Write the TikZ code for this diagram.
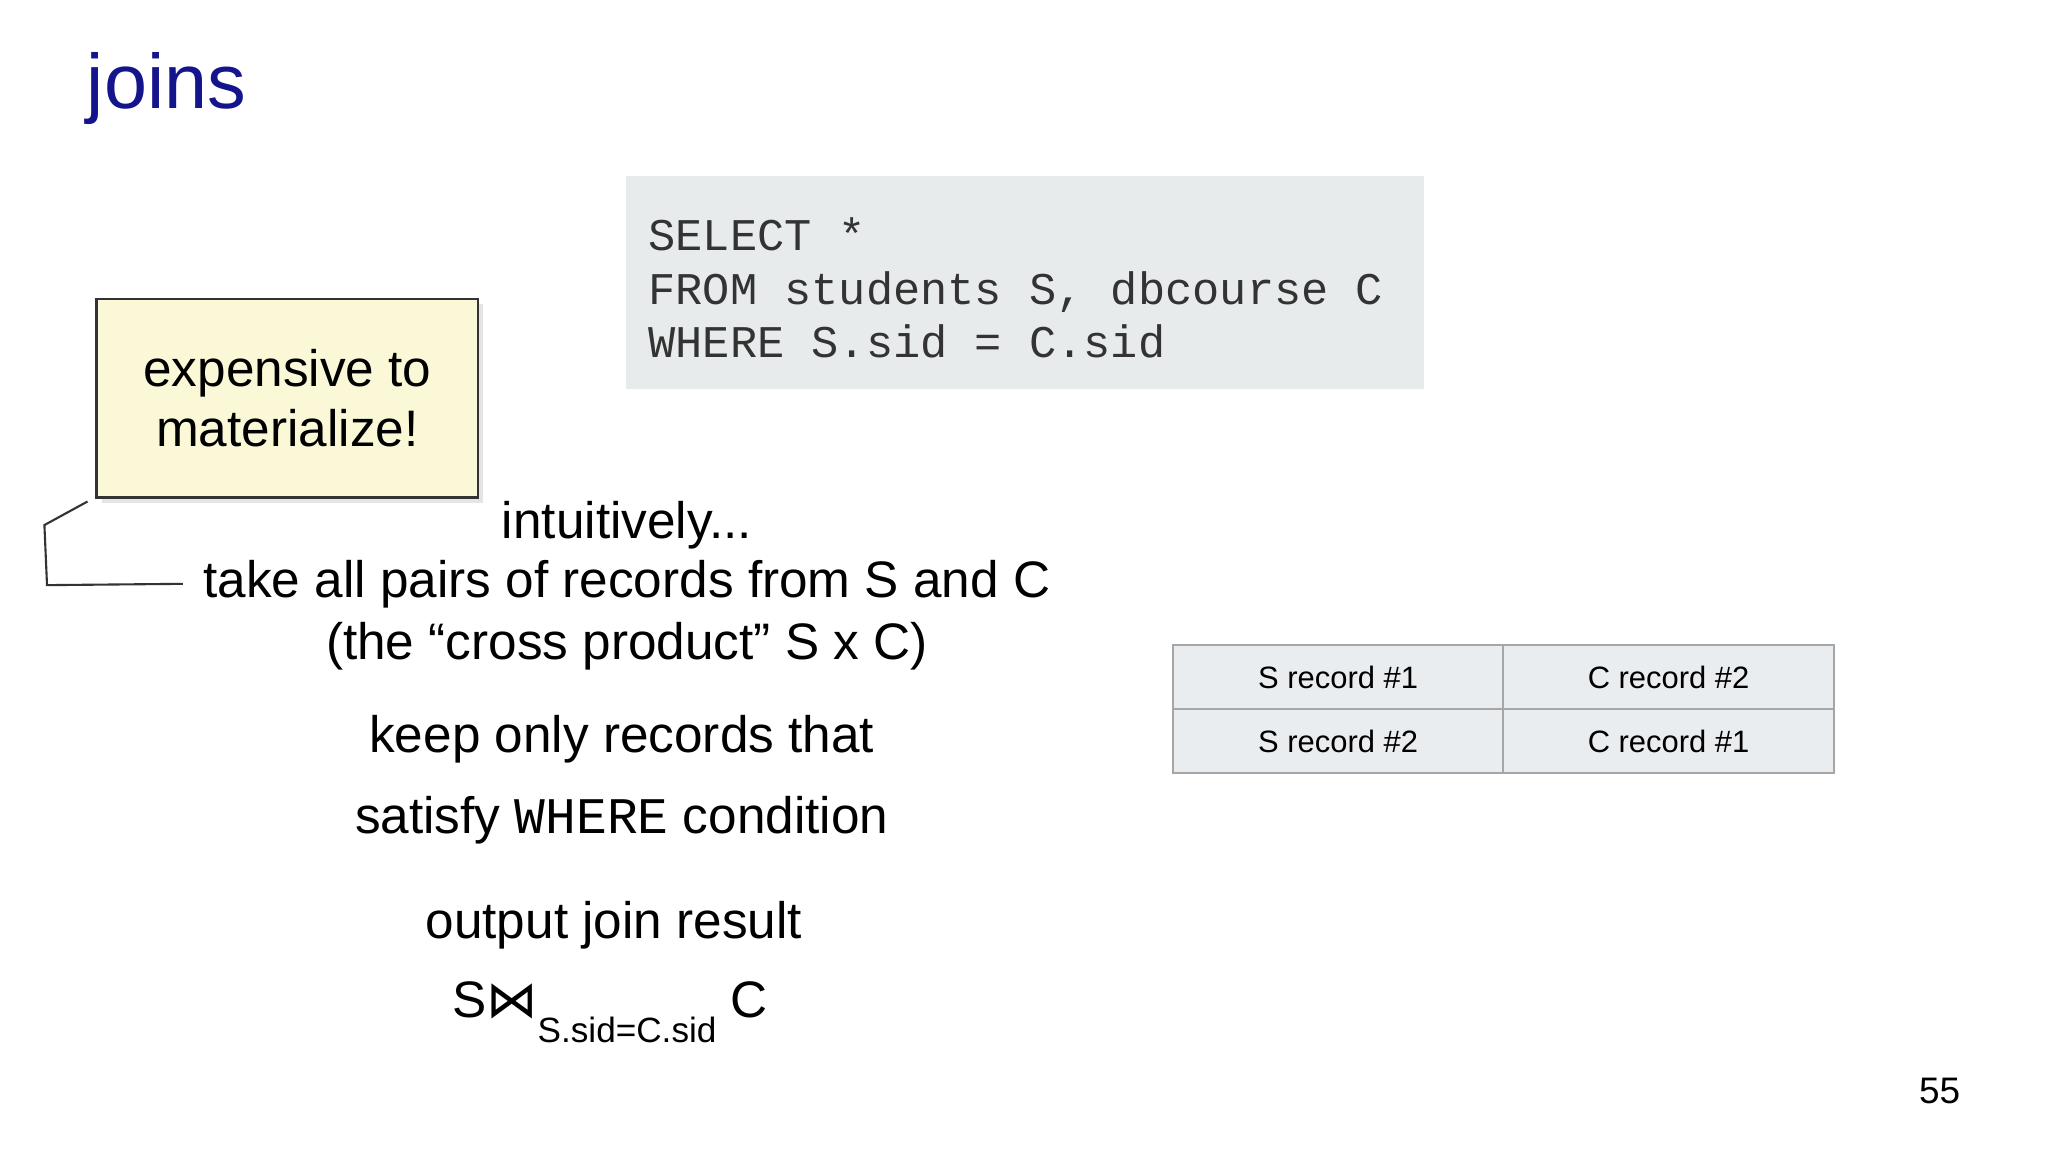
\documentclass[tikz,border=0pt]{standalone}
\usepackage{fontspec}
\setmainfont{Liberation Sans}
\setmonofont{Liberation Mono}
\newfontfamily\symfont{DejaVu Sans}
\usetikzlibrary{shadows}
\definecolor{titleblue}{RGB}{20,20,140}
\definecolor{codebg}{RGB}{232,235,236}
\definecolor{notebg}{RGB}{250,248,214}
\definecolor{cellbg}{RGB}{234,237,239}
\tikzset{
  body/.style={font=\fontsize{14.6pt}{17pt}\selectfont, align=center, inner sep=0pt},
  cell/.style={draw=gray!70, line width=0.6pt, fill=cellbg, minimum width=253*0.01306cm, minimum height=49*0.01306cm, font=\fontsize{8.8pt}{10pt}\selectfont, inner sep=0pt}
}
\begin{document}
\begin{tikzpicture}[x=0.01306cm,y=-0.01306cm]
\useasboundingbox[fill=white] (0,0) rectangle (1568,882);
\node[anchor=west, text=titleblue, font=\fontsize{22pt}{26pt}\selectfont, inner sep=0pt] (title) at (66,68) {joins};
% code box
\node[fill=codebg, minimum width=611*0.01306cm, minimum height=163*0.01306cm, inner sep=0pt] (codebox) at (784.5,216.5) {};
\node[anchor=north west, align=left, inner sep=0pt, text=black!80, font=\fontsize{12.9pt}{15.3pt}\ttfamily] (code) at (496,166) {SELECT *\\FROM students S, dbcourse C\\WHERE S.sid = C.sid};
% note box
\node[draw=black!80, line width=0.7pt, fill=notebg, drop shadow={shadow xshift=1.5pt, shadow yshift=-1.5pt, opacity=0.2}, minimum width=292*0.01306cm, minimum height=152*0.01306cm, body] (note) at (220,305) {expensive to\\materialize!};
\coordinate (c1) at (34,402);
\coordinate (c2) at (36,448);
\coordinate (c3) at (140,447);
\draw[black!80, line width=0.6pt] (note.south west) ++(-6,2) -- (c1) -- (c2) -- (c3);
% body text
\node[body] (t1) at (480,402) {intuitively...};
\node[body] (t2) at (480,447) {take all pairs of records from S and C};
\node[body] (t3) at (480,495) {(the “cross product” S x C)};
\node[body, font=\fontsize{14.6pt}{23pt}\selectfont] (t4) at (476,597) {keep only records that\\satisfy {\ttfamily WHERE} condition};
\node[body] (t5) at (470,708) {output join result};
\node[body] (t6) at (467,775) {S{\symfont ⋈}\raisebox{-0.9ex}{\fontsize{10pt}{11pt}\selectfont S.sid=C.sid} C};
% table
\node[cell] (a1) at (1024.5,518.5) {S record \#1};
\node[cell] (b1) at (1277.5,518.5) {C record \#2};
\node[cell] (a2) at (1024.5,567.5) {S record \#2};
\node[cell] (b2) at (1277.5,567.5) {C record \#1};
\node[font=\fontsize{10.5pt}{12pt}\selectfont, inner sep=0pt] (page) at (1485,835) {55};
\end{tikzpicture}
\end{document}
